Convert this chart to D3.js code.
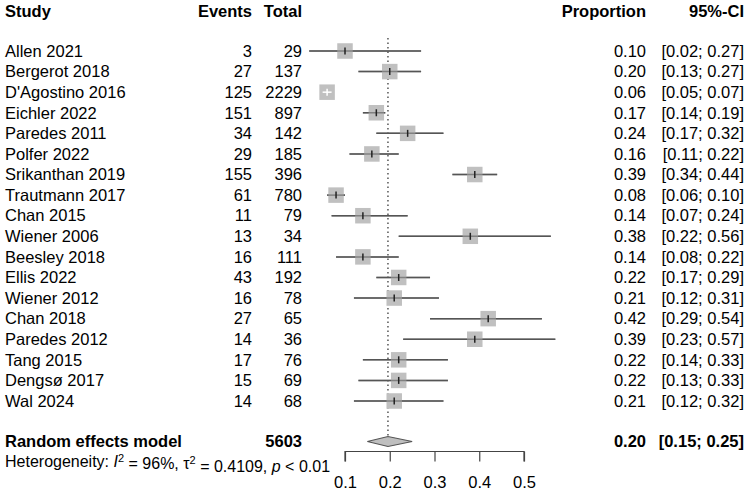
<!DOCTYPE html>
<html>
<head>
<meta charset="utf-8">
<script src="https://cdn.jsdelivr.net/npm/d3@7"></script>
<style>
    body { margin: 0; background: #fff; }
    svg { display: block; font-family: "Liberation Sans", Arial, Helvetica, sans-serif; }
</style>
</head>
<body>
<div id="chart"></div>
<script>
// ── Data ─────────────────────────────────────────────
const studies = ['Allen 2021', 'Bergerot 2018', "D'Agostino 2016", 'Eichler 2022', 'Paredes 2011',
    'Polfer 2022', 'Srikanthan 2019', 'Trautmann 2017', 'Chan 2015', 'Wiener 2006', 'Beesley 2018',
    'Ellis 2022', 'Wiener 2012', 'Chan 2018', 'Paredes 2012', 'Tang 2015', 'Dengsø 2017', 'Wal 2024'];
const events = [3, 27, 125, 151, 34, 29, 155, 61, 11, 13, 16, 43, 16, 27, 14, 17, 15, 14];
const totals = [29, 137, 2229, 897, 142, 185, 396, 780, 79, 34, 111, 192, 78, 65, 36, 76, 69, 68];
const props = [0.10, 0.20, 0.06, 0.17, 0.24, 0.16, 0.39, 0.08, 0.14, 0.38, 0.14, 0.22, 0.21, 0.42, 0.39, 0.22, 0.22, 0.21];
const lower = [0.02, 0.13, 0.05, 0.14, 0.17, 0.11, 0.34, 0.06, 0.07, 0.22, 0.08, 0.17, 0.12, 0.29, 0.23, 0.14, 0.13, 0.12];
const upper = [0.27, 0.27, 0.07, 0.19, 0.32, 0.22, 0.44, 0.10, 0.24, 0.56, 0.22, 0.29, 0.31, 0.54, 0.57, 0.33, 0.33, 0.32];

const pooled = { label: 'Random effects model', total: 5603, est: 0.196, lo: 0.15, hi: 0.25, estText: '0.20', ciText: '[0.15; 0.25]' };
const xTicks = [0.1, 0.2, 0.3, 0.4, 0.5];

// ── Layout ───────────────────────────────────────────
const W = 750, H = 494;
const FS = 16.5;
const colStudy = 5, colEvents = 252, colTotal = 302, colProp = 646, colCI = 744;

const svg = d3.select('#chart').append('svg')
    .attr('width', W)
    .attr('height', H);

const x = d3.scaleLinear().domain([0.1, 0.5]).range([345, 524]);
const y = d3.scaleLinear().domain([0, studies.length - 1]).range([51, 401]);
const yPooled = 441.5, yHeader = 11, yAxis = 451.5;
const sq = 15.5;

const fmt = d3.format('.2f');

function txt(g, xPos, yPos, s, anchor, bold, size) {
    return g.append('text')
        .attr('x', xPos)
        .attr('y', yPos)
        .attr('dy', '0.35em')
        .attr('text-anchor', anchor)
        .style('font-size', (size || FS) + 'px')
        .style('font-weight', bold ? 'bold' : 'normal')
        .style('fill', '#000')
        .text(s);
}

// Headers
const head = svg.append('g');
txt(head, colStudy, yHeader, 'Study', 'start', true);
txt(head, colEvents, yHeader, 'Events', 'end', true);
txt(head, colTotal, yHeader, 'Total', 'end', true);
txt(head, colProp, yHeader, 'Proportion', 'end', true);
txt(head, colCI, yHeader, '95%-CI', 'end', true);

// Reference (pooled) dotted line
svg.append('line')
    .attr('x1', x(pooled.est)).attr('x2', x(pooled.est))
    .attr('y1', 38).attr('y2', yPooled - 5)
    .attr('stroke', '#555')
    .attr('stroke-width', 1.5)
    .attr('stroke-dasharray', '1.5,3');

// Study rows
studies.forEach((s, i) => {
    const g = svg.append('g');
    const yy = y(i);
    txt(g, colStudy, yy, s, 'start');
    txt(g, colEvents, yy, events[i], 'end');
    txt(g, colTotal, yy, totals[i], 'end');
    txt(g, colProp, yy, fmt(props[i]), 'end');
    txt(g, colCI, yy, `[${fmt(lower[i])}; ${fmt(upper[i])}]`, 'end');

    const cx = x(props[i]);
    const inside = x(lower[i]) >= cx - sq / 2 && x(upper[i]) <= cx + sq / 2;
    const lineCol = inside ? '#fff' : '#555';

    if (!inside) {
        g.append('line')
            .attr('x1', x(lower[i])).attr('x2', x(upper[i]))
            .attr('y1', yy).attr('y2', yy)
            .attr('stroke', '#555').attr('stroke-width', 1.5);
    }
    g.append('rect')
        .attr('x', cx - sq / 2).attr('y', yy - sq / 2)
        .attr('width', sq).attr('height', sq)
        .attr('fill', '#c0c0c0');
    g.append('line')
        .attr('x1', x(lower[i])).attr('x2', x(upper[i]))
        .attr('y1', yy).attr('y2', yy)
        .attr('stroke', lineCol).attr('stroke-width', 1.5)
        .attr('stroke-opacity', inside ? 1 : 0.6);
    g.append('line')
        .attr('x1', cx).attr('x2', cx)
        .attr('y1', yy - 3.5).attr('y2', yy + 3.5)
        .attr('stroke', inside ? '#fff' : '#222').attr('stroke-width', 1.5);
});

// Pooled row
const pg = svg.append('g');
txt(pg, colStudy, yPooled, pooled.label, 'start', true);
txt(pg, colTotal, yPooled, pooled.total, 'end', true);
txt(pg, colProp, yPooled, pooled.estText, 'end', true);
txt(pg, colCI, yPooled, pooled.ciText, 'end', true);
pg.append('path')
    .attr('d', `M${x(pooled.lo)},${yPooled} L${x(pooled.est)},${yPooled - 5} L${x(pooled.hi)},${yPooled} L${x(pooled.est)},${yPooled + 5} Z`)
    .attr('fill', '#bfbfbf')
    .attr('stroke', '#555')
    .attr('stroke-width', 1.2);

// Heterogeneity
const het = svg.append('text')
    .attr('x', colStudy).attr('y', 461.5).attr('dy', '0.35em')
    .style('font-size', '16px').style('fill', '#000');
het.append('tspan').text('Heterogeneity: ');
het.append('tspan').style('font-style', 'italic').text('I');
het.append('tspan').attr('dy', '-0.45em').style('font-size', '11px').text('2');
het.append('tspan').attr('dy', '0.45em').text(' = 96%, τ');
het.append('tspan').attr('dy', '-0.45em').style('font-size', '11px').text('2');
het.append('tspan').attr('dy', '0.45em').text(' = 0.4109, ');
het.append('tspan').style('font-style', 'italic').text('p');
het.append('tspan').text(' < 0.01');

// Axis
const axis = svg.append('g')
    .attr('transform', `translate(0,${yAxis})`)
    .call(d3.axisBottom(x).tickValues(xTicks).tickSize(10).tickPadding(15).tickFormat(d3.format('.1f')));
axis.select('.domain').attr('stroke', '#444').attr('stroke-width', 1.2)
    .attr('d', `M${x(0.1)},10V0H${x(0.5)}V10`);
axis.selectAll('.tick line').attr('stroke', '#444').attr('stroke-width', 1.2);
axis.selectAll('.tick text')
    .style('font-size', FS + 'px')
    .style('font-family', '"Liberation Sans", Arial, sans-serif')
    .attr('fill', '#000');
</script>
</body>
</html>
